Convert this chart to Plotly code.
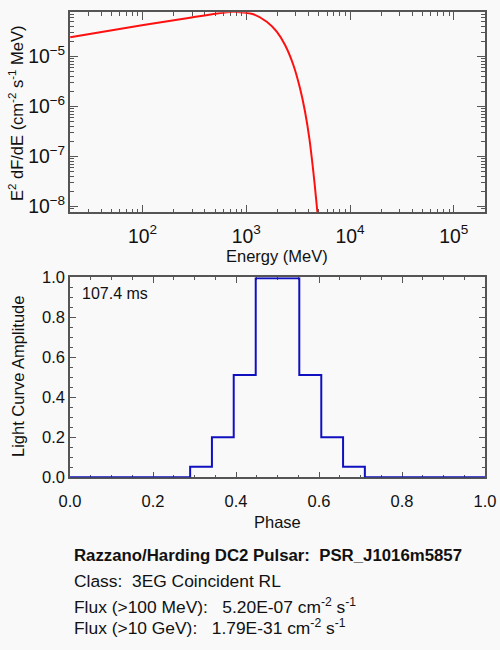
import plotly.graph_objects as go

# upper panel: spectrum (MeV, E^2 dF/dE)
energy_mev = [20.1, 102, 287, 649, 760, 871, 1170, 1576, 1967, 2365, 2843,
              3297, 3686, 4055, 4431, 4775, 5000]
e2_dfde = [2.44e-5, 4.3e-5, 6.03e-5, 7.73e-5, 7.9e-5, 7.73e-5, 7.05e-5,
           5.01e-5, 3.16e-5, 1.71e-5, 6.82e-6, 2.33e-6, 7.94e-7, 2.33e-7,
           5.0e-8, 1.08e-8, 4.0e-9]

# lower panel: light curve, 20 phase bins
phase = [0.0, 0.053, 0.105, 0.158, 0.211, 0.263, 0.316, 0.368, 0.421, 0.474,
         0.526, 0.579, 0.632, 0.684, 0.737, 0.789, 0.842, 0.895, 0.947, 1.0]
amplitude = [0, 0, 0, 0, 0, 0, 0.053, 0.2, 0.512, 0.995,
             0.995, 0.512, 0.2, 0.053, 0, 0, 0, 0, 0, 0]

period_label = "107.4 ms"
info_lines = [
    "<b>Razzano/Harding DC2 Pulsar:\u00a0\u00a0PSR_J1016m5857</b>",
    "Class:\u00a0\u00a03EG Coincident RL",
    "Flux (>100 MeV):\u00a0\u00a0\u00a05.20E-07 cm<sup>-2</sup> s<sup>-1</sup>",
    "Flux (>10 GeV):\u00a0\u00a0\u00a01.79E-31 cm<sup>-2</sup> s<sup>-1</sup>",
]
info_y_px = [555, 581, 606, 627]

FONT = "Liberation Sans, Arial, sans-serif"
BG = "#f9f9f9"
AX = "#555555"
W, H = 500, 650


def px_y(y):
    return 1 - y / H


fig = go.Figure()
fig.add_trace(go.Scatter(x=energy_mev, y=e2_dfde, mode="lines", line={"color": "#ff1010", "width": 2},
                         line_shape="spline", xaxis="x", yaxis="y", showlegend=False))
fig.add_trace(go.Scatter(x=phase, y=amplitude, mode="lines", line={"color": "#1010c0", "width": 2},
                         line_shape="hvh", xaxis="x2", yaxis="y2", cliponaxis=False, showlegend=False))

common = dict(showline=True, linecolor=AX, linewidth=1.5, mirror="ticks", ticks="inside",
              tickcolor=AX, showgrid=False, zeroline=False, layer="below traces", automargin=False,
              tickfont={"family": FONT, "size": 16.5, "color": "#111"})

fig.update_layout(
    template="none",
    width=W, height=H,
    paper_bgcolor=BG, plot_bgcolor=BG,
    margin={"l": 0, "r": 0, "t": 0, "b": 0, "pad": 0},
    font={"family": FONT, "color": "#111"},
    xaxis=dict(common, type="log", domain=[70 / W, 485 / W], range=[1.30103, 5.30103], dtick=1,
               exponentformat="power", ticklen=8, ticklabelstandoff=6, anchor="y",
               tickfont={"family": FONT, "size": 15.5, "color": "#111"},
               minor={"ticks": "inside", "ticklen": 4, "dtick": "D1", "tickcolor": AX, "showgrid": False}),
    yaxis=dict(common, type="log", domain=[px_y(212.3), px_y(12.3)], range=[-8.112, -4.112], dtick=1,
               exponentformat="power", ticklen=8, anchor="x",
               tickfont={"family": FONT, "size": 15.5, "color": "#111"},
               minor={"ticks": "inside", "ticklen": 4, "dtick": "D1", "tickcolor": AX, "showgrid": False}),
    xaxis2=dict(common, domain=[70 / W, 485 / W], range=[0, 1], dtick=0.2, tickformat=".1f",
                ticklen=6, ticklabelstandoff=8, anchor="y2",
                minor={"ticks": "inside", "ticklen": 3, "dtick": 0.05, "tickcolor": AX, "showgrid": False}),
    yaxis2=dict(common, domain=[px_y(477.3), px_y(277.3)], range=[0, 1], dtick=0.2, tickformat=".1f",
                ticklen=6, anchor="x2",
                minor={"ticks": "inside", "ticklen": 3, "dtick": 0.05, "tickcolor": AX, "showgrid": False}),
)

annotations = [
    dict(text="Energy (MeV)", x=277 / W, y=px_y(256), xanchor="center", yanchor="middle",
         font={"size": 16.5}),
    dict(text="E<sup>2</sup> dF/dE (cm<sup>-2</sup> s<sup>-1</sup> MeV)", x=16 / W, y=px_y(113),
         textangle=-90, xanchor="center", yanchor="middle", font={"size": 16.5}),
    dict(text="Phase", x=277 / W, y=px_y(522), xanchor="center", yanchor="middle",
         font={"size": 16.5}),
    dict(text="Light Curve Amplitude", x=18 / W, y=px_y(377), textangle=-90,
         xanchor="center", yanchor="middle", font={"size": 16.5}),
    dict(text=period_label, x=80 / W, y=px_y(293), xanchor="left", yanchor="middle",
         font={"size": 16}),
]
for i, (line, ypx) in enumerate(zip(info_lines, info_y_px)):
    annotations.append(dict(text=line, x=72 / W, y=px_y(ypx), xanchor="left", yanchor="middle",
                            font={"size": 16.8 if i == 0 else 17.4}))
for a in annotations:
    a.update(xref="paper", yref="paper", showarrow=False)
fig.update_layout(annotations=annotations)

# the page's default body margin would shift the figure by 8px
fig.write_html("out.html", config={"displayModeBar": False},
               post_script="document.body.style.margin = '0';")
